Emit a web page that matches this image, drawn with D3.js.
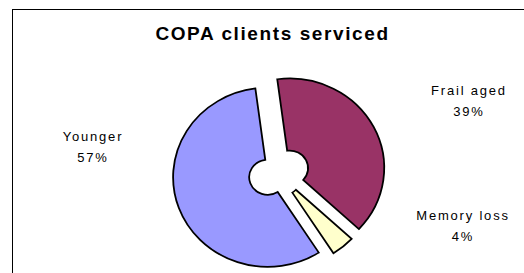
<!DOCTYPE html>
<html>
<head>
<meta charset="utf-8">
<script src="https://cdn.jsdelivr.net/npm/d3@7"></script>
<style>
  html, body { margin: 0; padding: 0; background: #fff; }
  svg { display: block; }
  text { font-family: "Liberation Sans", Arial, sans-serif; fill: #000; }
</style>
</head>
<body>
<svg id="chart" width="524" height="273"></svg>
<script>
// ---- data ----
const categories = ["Frail aged", "Memory loss", "Younger"];
const values = [39, 4, 57];
const percentLabels = ["39%", "4%", "57%"];
const colors = ["#993366", "#FFFFCC", "#9999FF"];
const title = "COPA clients serviced";

// ---- layout / style ----
const W = 524, H = 273;
const center = [278.5, 173.5];
const yScale = 0.947;
const outerR = 94.6, innerR = 18.5;
const explode = [12.5, 6, 11.5];
const startDeg = -7.5;
const labelAnchors = [[469, 95], [463, 220], [93, 141]];

const svg = d3.select("#chart");

// frame
svg.append("rect")
  .attr("x", 12.5).attr("y", 9.5)
  .attr("width", 540).attr("height", 300)
  .attr("fill", "#fff").attr("stroke", "#000").attr("stroke-width", 1);

// title
svg.append("text")
  .attr("x", 272.5).attr("y", 39.5)
  .attr("text-anchor", "middle")
  .style("font-size", "19px").style("font-weight", "bold")
  .style("letter-spacing", "1.6px")
  .text(title);

const start = startDeg * Math.PI / 180;
const pie = d3.pie().sort(null).startAngle(start).endAngle(start + 2 * Math.PI);
const arcs = pie(values);
const arc = d3.arc().innerRadius(innerR).outerRadius(outerR);

const g = svg.append("g")
  .attr("transform", `translate(${center[0]},${center[1]}) scale(1,${yScale})`);

g.selectAll("path.slice")
  .data(arcs)
  .join("path")
  .attr("class", "slice")
  .attr("d", arc)
  .attr("transform", (d, i) => {
    const mid = (d.startAngle + d.endAngle) / 2;
    return `translate(${Math.sin(mid) * explode[i]},${-Math.cos(mid) * explode[i]})`;
  })
  .attr("fill", (d, i) => colors[i])
  .attr("stroke", "#000")
  .attr("stroke-width", 1.8)
  .attr("stroke-linejoin", "miter");

// labels
const lab = svg.selectAll("g.lab")
  .data(arcs)
  .join("g")
  .attr("class", "lab")
  .attr("transform", (d, i) => `translate(${labelAnchors[i][0]},${labelAnchors[i][1]})`);

lab.append("text")
  .attr("text-anchor", "middle")
  .style("font-size", "13px")
  .style("letter-spacing", "1.8px")
  .text((d, i) => categories[i]);

lab.append("text")
  .attr("text-anchor", "middle")
  .attr("y", 21)
  .style("font-size", "13px")
  .style("letter-spacing", "1.8px")
  .text((d, i) => percentLabels[i]);
</script>
</body>
</html>
